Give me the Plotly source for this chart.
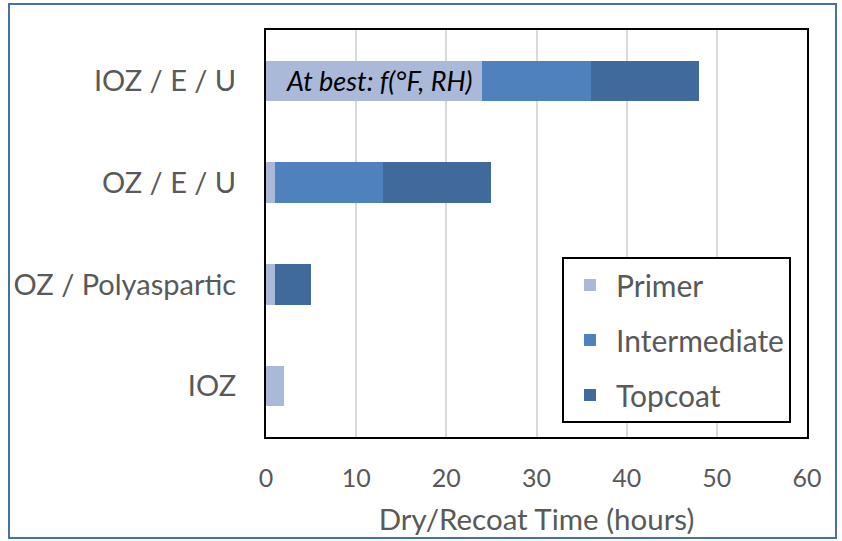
import plotly.graph_objects as go

categories = ["IOZ", "OZ / Polyaspartic", "OZ / E / U", "IOZ / E / U"]
primer = [2, 1, 1, 24]
intermediate = [0, 0, 12, 12]
topcoat = [0, 4, 12, 12]
series_names = ["Primer", "Intermediate", "Topcoat"]
colors = ["#AAB9D8", "#4F81BD", "#416A9C"]
x_ticks = [0, 10, 20, 30, 40, 50, 60]
note_text = "At best: f(°F, RH)"

FONT = "Lato"
GRAY = "#595959"

fig = go.Figure()
for i, (name, vals) in enumerate(zip(series_names, [primer, intermediate, topcoat])):
    fig.add_trace(go.Bar(
        y=categories, x=vals, name=name, orientation="h",
        marker=dict(color=colors[i], line=dict(width=0)),
        legendgroup=name,
    ))

fig.add_annotation(
    x=primer[3] / 2 + 0.6, y=categories[3], xref="x", yref="y",
    text="<i>" + note_text + "</i>", showarrow=False,
    font=dict(family=FONT, size=27, color="#000000"),
)

pw, ph = 541, 407
ml, mt = 266, 30
fig.add_shape(
    type="rect", xref="paper", yref="paper",
    x0=(9 - ml) / pw, x1=(836 - ml) / pw,
    y0=(mt + ph - 538) / ph, y1=(mt + ph - 4) / ph,
    line=dict(color="#4670A6", width=2), fillcolor="rgba(0,0,0,0)", layer="below",
)

fig.update_layout(
    width=842, height=541,
    margin=dict(l=266, r=35, t=30, b=104, autoexpand=False),
    barmode="stack", bargap=0.6,
    plot_bgcolor="white", paper_bgcolor="white",
    font=dict(family=FONT, size=28, color=GRAY),
    legend=dict(
        x=(562 - ml) / pw, y=(mt + ph - 257) / ph, xanchor="left", yanchor="top",
        bordercolor="#000000", borderwidth=2, bgcolor="white",
        font=dict(family=FONT, size=30, color=GRAY),
        traceorder="grouped", tracegroupgap=13, itemwidth=42,
    ),
    xaxis=dict(
        range=[0, 60], tickvals=x_ticks, showgrid=True, gridcolor="#D9D9D9", gridwidth=2,
        showline=True, linecolor="#000000", linewidth=2, mirror=True,
        zeroline=False, ticks="", ticklabelstandoff=18, automargin=False,
        tickfont=dict(family=FONT, size=25, color=GRAY),
        title=dict(text="Dry/Recoat Time (hours)", standoff=18,
                   font=dict(family=FONT, size=29.5, color=GRAY)),
    ),
    yaxis=dict(
        categoryorder="array", categoryarray=categories,
        showline=True, linecolor="#000000", linewidth=2, mirror=True,
        showgrid=False, ticks="", ticklabelstandoff=22, automargin=False,
        tickfont=dict(family=FONT, size=29, color=GRAY),
    ),
)

fig.write_html("out.html", config={"displayModeBar": False},
               post_script="document.body.style.margin='0';")
